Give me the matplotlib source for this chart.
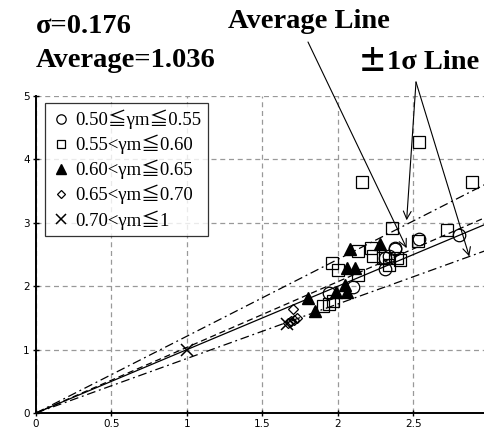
import matplotlib

matplotlib.use("Agg")
import matplotlib.pyplot as plt
import numpy as np

# measured points, by gamma_m class
circle_x = [2.80, 2.54, 2.38, 2.34, 2.31, 2.10, 1.94, 2.31, 2.38]
circle_y = [2.81, 2.74, 2.60, 2.47, 2.27, 1.99, 1.90, 2.44, 2.58]

square_x = [2.16, 2.54, 2.89, 2.36, 2.72, 2.53, 2.13, 2.22, 2.23, 2.30, 2.39, 1.96, 2.00, 2.13, 1.90, 1.94, 1.97, 2.41, 2.34]
square_y = [3.64, 4.27, 3.64, 2.92, 2.88, 2.71, 2.56, 2.60, 2.47, 2.44, 2.44, 2.36, 2.26, 2.17, 1.68, 1.72, 1.76, 2.41, 2.33]

tri_x = [2.08, 2.28, 2.06, 2.11, 2.05, 2.06, 1.99, 1.80, 1.85]
tri_y = [2.58, 2.66, 2.28, 2.28, 2.02, 1.91, 1.91, 1.81, 1.61]

diamond_x = [1.70, 1.67, 1.69, 1.71, 1.73, 1.68]
diamond_y = [1.64, 1.42, 1.45, 1.47, 1.50, 1.44]

cross_x = [1.00, 1.66]
cross_y = [1.00, 1.40]

legend_labels = [
    "0.50≦γm≦0.55",
    "0.55<γm≦0.60",
    "0.60<γm≦0.65",
    "0.65<γm≦0.70",
    "0.70<γm≦1",
]

SIGMA = 0.176
AVERAGE = 1.036

SERIF = ["Liberation Serif", "Noto Sans CJK JP", "DejaVu Serif"]

W, H = 485, 441
fig = plt.figure(figsize=(W / 100, H / 100), dpi=100)
ax = fig.add_axes([36 / W, 1 - 413 / H, (W - 36) / W, (413 - 96) / H])
ax.set_xlim(0, 2.974)
ax.set_ylim(0, 5)

ax.set_xticks([0, 0.5, 1, 1.5, 2, 2.5])
ax.set_xticklabels(["0", "0.5", "1", "1.5", "2", "2.5"])
ax.set_yticks([0, 1, 2, 3, 4, 5])
ax.grid(True, color="#999999", linestyle=(0, (4, 3)), linewidth=0.9)
ax.set_axisbelow(True)
for side in ("top", "right"):
    ax.spines[side].set_visible(False)
for side in ("left", "bottom"):
    ax.spines[side].set_linewidth(1.4)
ax.tick_params(direction="inout", length=5, width=1, labelsize=7.5, pad=2)

xs = np.array([0, 3.0])
ax.plot(xs, xs, color="black", lw=0.9)
ax.plot(xs, AVERAGE * xs, color="black", lw=0.9, linestyle=(0, (5, 3)))
ax.plot(xs, (AVERAGE + SIGMA) * xs, color="black", lw=0.9, linestyle=(0, (7, 3, 1.5, 3)))
ax.plot(xs, (AVERAGE - SIGMA) * xs, color="black", lw=0.9, linestyle=(0, (7, 3, 1.5, 3)))

h1, = ax.plot(circle_x, circle_y, "o", ms=9, mfc="none", mec="black", mew=0.9)
h2, = ax.plot(square_x, square_y, "s", ms=8.5, mfc="none", mec="black", mew=0.9)
h3, = ax.plot(tri_x, tri_y, "^", ms=9, color="black")
h4, = ax.plot(diamond_x, diamond_y, "D", ms=5.5, mfc="none", mec="black", mew=0.9)
h5, = ax.plot(cross_x, cross_y, "x", ms=9, color="black", mew=1.1)

leg = ax.legend(
    [h1, h2, h3, h4, h5],
    legend_labels,
    loc="upper left",
    bbox_to_anchor=(9 / (W - 36), (317 - 7) / 317),
    borderaxespad=0,
    prop={"family": SERIF, "size": 13.5},
    handlelength=1.0,
    handletextpad=0.25,
    labelspacing=0.3,
    borderpad=0.35,
    frameon=True,
    fancybox=False,
    markerscale=0.75,
)
leg.get_frame().set_edgecolor("black")
leg.get_frame().set_linewidth(0.9)

bold = {"size": 20.5, "weight": "bold"}
fig.text(36 / W, 1 - 33 / H, "σ=0.176", family=SERIF, **bold)
fig.text(36 / W, 1 - 67 / H, "Average=1.036", family=SERIF, **bold)
fig.text(228 / W, 1 - 28 / H, "Average Line", family=SERIF, **bold)
fig.text(358 / W, 1 - 71 / H, "±", family=["Noto Sans CJK JP"], size=21, weight="bold")
fig.text(387 / W, 1 - 69 / H, "1σ Line", family=SERIF, **bold)

arrow = dict(arrowstyle="->", lw=0.8, color="black", mutation_scale=14, shrinkA=0, shrinkB=0)
ax.annotate("", xy=(2.455, 2.60), xytext=(308 / W, 1 - 42 / H), textcoords="figure fraction", arrowprops=arrow)
ax.annotate("", xy=(2.455, 3.04), xytext=(416 / W, 1 - 82 / H), textcoords="figure fraction", arrowprops=arrow)
ax.annotate("", xy=(2.87, 2.47), xytext=(416 / W, 1 - 82 / H), textcoords="figure fraction", arrowprops=arrow)

fig.savefig("out.png", dpi=100)
